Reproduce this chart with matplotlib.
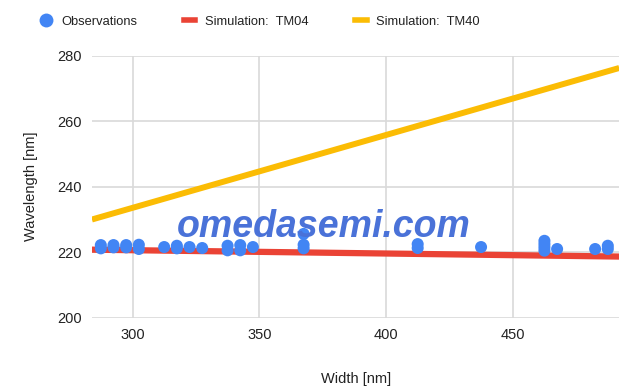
import numpy as np
import matplotlib.pyplot as plt
from matplotlib.lines import Line2D

plt.rcParams['font.family'] = ['Liberation Sans', 'DejaVu Sans']

# observations: width [nm] -> measured wavelengths [nm]
obs_width = [287.5, 287.5, 292.5, 292.5, 297.5, 297.5, 302.5, 302.5,
             312.5, 317.5, 317.5, 322.5, 327.5, 337.5, 337.5, 342.5, 342.5,
             347.5, 367.5, 367.5, 367.5, 412.5, 412.5, 437.5,
             462.5, 462.5, 462.5, 462.5, 467.5, 482.5, 487.5, 487.5]
obs_wave = [221.2, 222.2, 221.5, 222.2, 221.5, 222.2, 221.0, 222.3,
            221.6, 221.2, 222.0, 221.6, 221.3, 220.6, 222.0, 220.6, 222.2,
            221.6, 221.2, 222.3, 225.6, 221.3, 222.5, 221.6,
            220.5, 221.5, 222.5, 223.5, 221.0, 221.0, 221.0, 222.0]

# simulation lines (end points)
sim_width = [284, 492]
tm04 = [220.8, 218.7]
tm40 = [230.0, 276.2]

c_obs = '#4285f4'
c_tm04 = '#ea4335'
c_tm40 = '#fbbc04'

fig = plt.figure(figsize=(6.43, 3.91), dpi=100)
ax = fig.add_axes([0.143, 0.187, 0.82, 0.671])

ax.plot(sim_width, tm04, color=c_tm04, lw=4.5, solid_capstyle='butt', zorder=2)
ax.plot(sim_width, tm40, color=c_tm40, lw=4.3, solid_capstyle='butt', zorder=2)
ax.scatter(obs_width, obs_wave, s=75, color=c_obs, edgecolors='none', zorder=3)

ax.set_xlim(284, 492)
ax.set_ylim(200, 280)
ax.set_xticks([300, 350, 400, 450])
ax.set_yticks([200, 220, 240, 260, 280])
ax.grid(True, color='#d9d9d9', lw=1.2)
ax.set_axisbelow(True)
for s in ax.spines.values():
    s.set_visible(False)
ax.tick_params(length=0, labelsize=10.5, colors='#222222', pad=7)
ax.set_xlabel('Width [nm]', fontsize=10.5, color='#222222', labelpad=22)
ax.set_ylabel('Wavelength [nm]', fontsize=10.5, color='#222222', labelpad=14)

# watermark
fig.text(0.503, 0.42, 'omedasemi.com', fontsize=27, fontweight='bold', style='italic',
         color='#4a72d8', ha='center', va='center', zorder=10)

handles = [
    Line2D([], [], marker='o', ls='none', color=c_obs, markersize=10, markeredgewidth=0),
    Line2D([], [], color=c_tm04, lw=4),
    Line2D([], [], color=c_tm40, lw=4),
]
labels = ['Observations', 'Simulation:  TM04', 'Simulation:  TM40']
fig.legend(handles, labels, loc='center left', bbox_to_anchor=(0.044, 0.945), ncol=3,
           frameon=False, fontsize=9.3, handlelength=0.9, handletextpad=0.75,
           columnspacing=3.6, labelcolor='#222222')

fig.savefig('out.png', dpi=100)
